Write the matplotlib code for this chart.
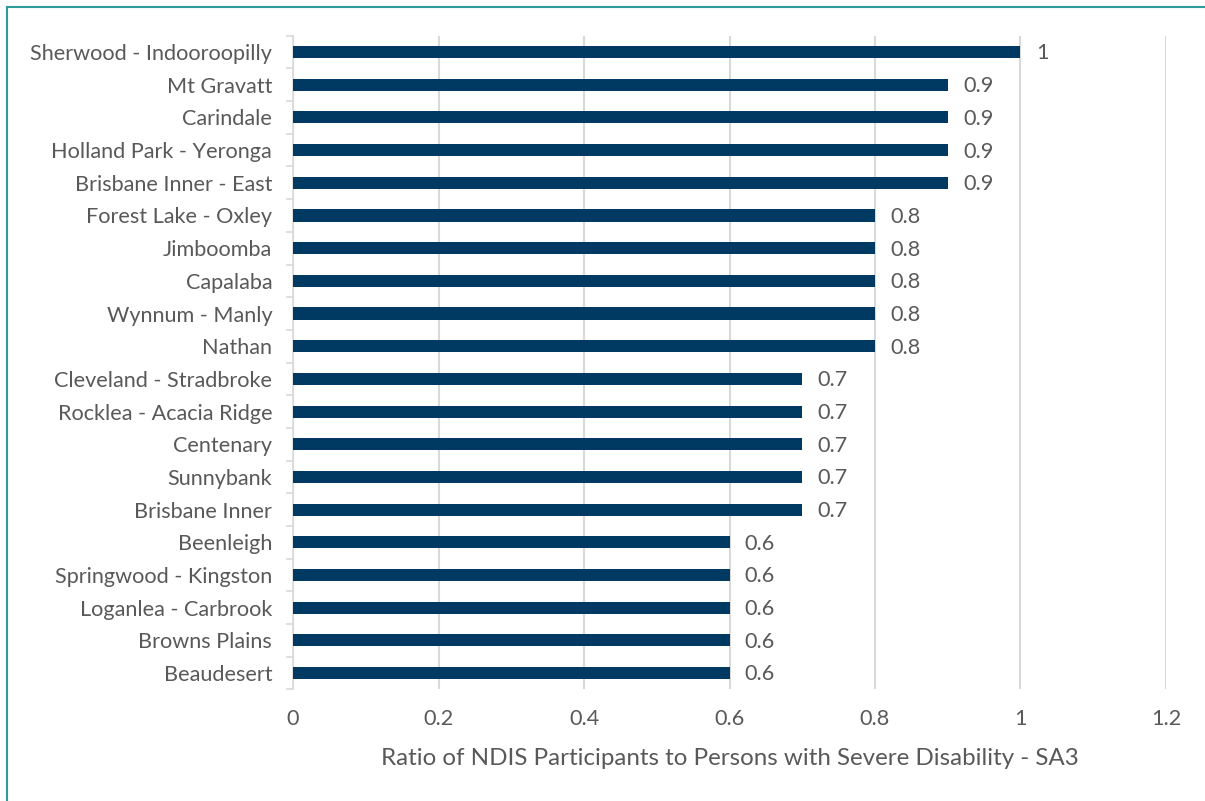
import matplotlib
matplotlib.use("Agg")
import matplotlib.pyplot as plt
from matplotlib.lines import Line2D

categories = [
    "Sherwood - Indooroopilly", "Mt Gravatt", "Carindale", "Holland Park - Yeronga",
    "Brisbane Inner - East", "Forest Lake - Oxley", "Jimboomba", "Capalaba",
    "Wynnum - Manly", "Nathan", "Cleveland - Stradbroke", "Rocklea - Acacia Ridge",
    "Centenary", "Sunnybank", "Brisbane Inner", "Beenleigh", "Springwood - Kingston",
    "Loganlea - Carbrook", "Browns Plains", "Beaudesert",
]
values = [1, 0.9, 0.9, 0.9, 0.9, 0.8, 0.8, 0.8, 0.8, 0.8,
          0.7, 0.7, 0.7, 0.7, 0.7, 0.6, 0.6, 0.6, 0.6, 0.6]
value_labels = ["1", "0.9", "0.9", "0.9", "0.9", "0.8", "0.8", "0.8", "0.8", "0.8",
                "0.7", "0.7", "0.7", "0.7", "0.7", "0.6", "0.6", "0.6", "0.6", "0.6"]
xticks = [0, 0.2, 0.4, 0.6, 0.8, 1.0, 1.2]
xtick_labels = ["0", "0.2", "0.4", "0.6", "0.8", "1", "1.2"]
xlabel = "Ratio of NDIS Participants to Persons with Severe Disability - SA3"

plt.rcParams['font.family'] = ['Lato', 'DejaVu Sans']
TXT = "#595959"
BAR = "#003A63"
GRID = "#D9D9D9"
FS = 15.6

fig = plt.figure(figsize=(12.05, 8.01), dpi=100)
ax = fig.add_axes([0.2432, 0.1393, 0.9676 - 0.2432, 0.9554 - 0.1393])

n = len(categories)
ypos = list(range(n))[::-1]
ax.barh(ypos, values, height=0.37, color=BAR, zorder=3)

for y, v, lab in zip(ypos, values, value_labels):
    ax.annotate(lab, (v, y), xytext=(11, -1), textcoords="offset points",
                va="center", ha="left", fontsize=FS, color=TXT)

ax.set_xlim(0, 1.2)
ax.set_ylim(-0.5, n - 0.5)
ax.set_xticks(xticks)
ax.set_xticklabels(xtick_labels, fontsize=FS, color=TXT)
ax.tick_params(axis="x", length=0, pad=14)
ax.xaxis.grid(True, color=GRID, linewidth=1.5, zorder=0)

ax.set_yticks(ypos)
ax.set_yticklabels(categories, fontsize=FS, color=TXT)
ax.tick_params(axis="y", length=0, pad=15)
# category boundary tick marks
ax.set_yticks([i - 0.5 for i in range(n + 1)], minor=True)
ax.tick_params(axis="y", which="minor", length=5, width=1.2, color=GRID, direction="out")

for s in ["top", "right", "bottom"]:
    ax.spines[s].set_visible(False)
ax.spines["left"].set_color(GRID)
ax.spines["left"].set_linewidth(1.2)

ax.set_xlabel(xlabel, fontsize=17.4, color=TXT, labelpad=14)

# outer frame (top and left edges visible)
frame_col = "#2E9A9A"
fig.add_artist(Line2D([7 / 1205, 1], [1 - 7 / 801, 1 - 7 / 801], transform=fig.transFigure,
                      color=frame_col, linewidth=1.5))
fig.add_artist(Line2D([7 / 1205, 7 / 1205], [0, 1 - 7 / 801], transform=fig.transFigure,
                      color=frame_col, linewidth=1.5))

fig.savefig("out.png", dpi=100, facecolor="white")
